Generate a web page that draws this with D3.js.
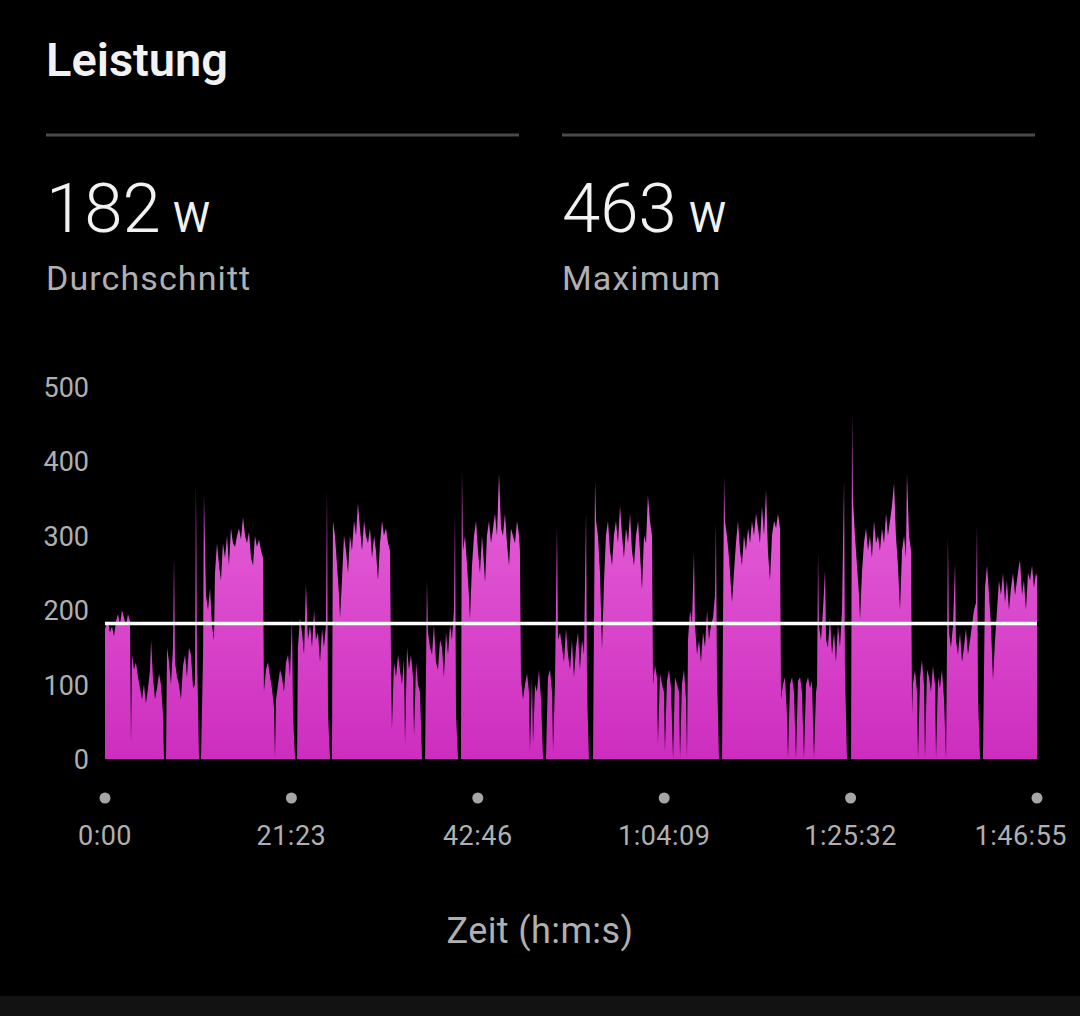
<!DOCTYPE html>
<html>
<head>
<meta charset="utf-8">
<script src="https://cdn.jsdelivr.net/npm/d3@7"></script>
<style>
  html, body { margin: 0; padding: 0; background: #000; }
  svg { display: block; font-family: Roboto, "Noto Sans", sans-serif; }
</style>
</head>
<body>
<svg id="chart" width="1080" height="1016"></svg>
<script>
// summary values
const avgW = 182;
const maxW = 463;

// y axis ticks (watts)
const yTicks = [0, 100, 200, 300, 400, 500];

// x axis ticks (seconds) and their labels
const xTicks = [0, 1283, 2566, 3849, 5132, 6415];
const xTickLabels = ["0:00", "21:23", "42:46", "1:04:09", "1:25:32", "1:46:55"];

// power trace: [elapsed seconds, watts]
const samples = [
  [0,175],[21,185],[34,170],[48,178],[62,165],[76,185],[89,195],[103,180],[117,200],[131,190],[145,178],[158,195],[172,185],[179,20],
  [186,140],[200,120],[213,130],[227,110],[241,95],[255,80],[268,100],[282,75],[296,95],[310,120],[317,160],[330,110],[344,80],[358,95],[372,115],[385,100],[399,60],[406,0],[420,0],
  [427,150],[441,130],[454,100],[468,150],[475,272],[482,130],[496,110],[509,100],[523,80],[537,125],[551,140],[564,110],[578,150],[592,140],[606,95],[619,100],[626,368],[633,150],[647,0],[661,0],[675,140],[681,357],[695,220],[709,200],[723,230],[736,180],[750,160],
  [757,250],[771,290],[785,260],[798,240],[812,290],[826,270],[840,300],[853,260],[867,310],[881,290],[895,285],[909,300],[922,310],[936,295],[950,325],[964,300],[977,290],[991,305],[1005,270],[1019,260],[1032,300],[1046,285],[1060,295],[1074,280],[1088,270],
  [1094,90],[1108,120],[1122,130],[1136,110],[1149,95],[1163,70],[1170,0],[1177,80],[1191,100],[1205,120],[1218,110],[1232,90],[1246,130],[1260,140],[1273,110],[1287,190],[1294,60],[1308,0],[1322,0],
  [1328,150],[1342,190],[1356,170],[1370,140],[1383,236],[1397,160],[1411,180],[1425,150],[1439,200],[1452,160],[1466,170],[1480,130],[1494,175],[1507,150],[1521,180],[1528,361],[1535,60],[1549,0],[1562,0],
  [1569,320],[1583,300],[1597,260],[1611,220],[1618,190],[1631,240],[1645,300],[1659,280],[1673,250],[1686,300],[1700,280],[1714,320],[1728,300],[1741,344],[1755,310],[1769,280],[1783,320],[1796,300],[1810,290],[1824,310],[1838,270],[1852,300],[1865,280],[1879,240],[1893,290],[1907,320],[1920,300],[1934,310],[1948,290],[1962,280],
  [1969,120],[1975,40],[1989,130],[2003,110],[2017,140],[2030,120],[2044,100],[2058,135],[2065,20],[2079,150],[2092,120],[2106,140],[2120,110],[2127,30],[2141,130],[2154,100],[2168,90],[2182,0],[2203,0],
  [2216,240],[2223,170],[2237,150],[2251,140],[2264,180],[2278,130],[2292,120],[2306,160],[2320,150],[2333,110],[2347,170],[2361,140],[2375,180],[2388,160],[2402,200],[2409,331],[2416,60],[2430,0],[2450,0],[2457,388],
  [2464,280],[2478,300],[2492,260],[2505,220],[2512,187],[2526,260],[2540,300],[2554,320],[2567,280],[2581,250],[2595,300],[2609,260],[2616,237],[2629,300],[2643,320],[2657,290],[2671,310],[2684,330],[2698,300],[2712,384],[2726,310],[2739,300],[2753,330],[2767,290],[2781,260],[2794,310],[2808,300],[2822,290],[2836,320],[2850,300],[2856,280],
  [2863,110],[2877,80],[2891,100],[2905,115],[2918,90],[2925,10],[2939,110],[2946,20],[2960,100],[2973,90],[2987,120],[3001,80],[3015,0],[3035,0],[3049,110],[3063,120],[3077,90],[3084,10],[3097,100],[3111,312],
  [3118,160],[3132,170],[3146,150],[3159,130],[3173,175],[3187,140],[3201,120],[3214,160],[3228,110],[3242,150],[3256,170],[3269,120],[3283,160],[3297,140],[3311,332],[3318,90],[3331,0],[3359,0],[3373,375],
  [3380,320],[3393,300],[3407,250],[3421,146],[3435,240],[3448,300],[3462,320],[3476,280],[3490,260],[3503,300],[3517,320],[3531,290],[3545,340],[3559,300],[3572,270],[3586,310],[3600,290],[3614,330],[3627,280],[3641,260],[3655,300],[3669,320],[3682,280],[3696,227],[3710,300],[3724,290],[3737,355],[3751,320],[3765,300],
  [3772,100],[3786,126],[3799,110],[3806,20],[3820,115],[3834,100],[3847,90],[3854,10],[3868,105],[3882,120],[3896,95],[3910,0],[3923,110],[3937,100],[3951,90],[3958,0],[3971,100],[3985,120],[3999,80],[4006,0],
  [4013,160],[4027,200],[4040,180],[4054,278],[4061,180],[4075,140],[4089,160],[4102,130],[4116,170],[4130,150],[4144,200],[4157,160],[4171,180],[4185,190],[4199,220],[4205,318],[4212,120],[4226,0],[4247,0],[4261,379],
  [4267,320],[4281,300],[4295,270],[4309,230],[4316,210],[4329,250],[4343,290],[4357,320],[4371,280],[4384,260],[4398,300],[4412,280],[4426,310],[4440,290],[4453,320],[4467,300],[4481,330],[4495,310],[4508,290],[4522,340],[4536,300],[4550,362],[4563,280],[4577,240],[4591,300],[4605,320],[4619,310],[4632,330],[4646,310],
  [4653,80],[4667,100],[4680,110],[4694,60],[4701,0],[4715,100],[4729,110],[4742,90],[4756,0],[4770,105],[4784,110],[4797,90],[4811,0],[4825,100],[4839,110],[4853,95],[4866,105],[4880,0],[4894,90],[4901,100],
  [4908,278],[4914,180],[4928,160],[4942,200],[4956,254],[4963,160],[4976,150],[4990,190],[5004,140],[5018,170],[5031,130],[5045,180],[5059,150],[5073,200],[5087,375],[5093,120],[5107,0],[5135,0],[5142,463],
  [5148,350],[5162,300],[5176,260],[5190,220],[5197,187],[5210,250],[5224,290],[5238,310],[5252,280],[5265,300],[5279,270],[5293,320],[5307,290],[5321,300],[5334,280],[5348,310],[5362,290],[5376,330],[5389,300],[5403,320],[5417,340],[5431,371],[5444,300],[5458,260],[5472,200],[5486,280],[5500,300],[5513,270],[5520,384],[5534,300],[5548,280],
  [5555,60],[5561,100],[5575,120],[5589,90],[5596,0],[5610,110],[5623,133],[5637,100],[5644,0],[5658,120],[5672,110],[5685,90],[5699,125],[5713,100],[5720,0],[5734,110],[5747,95],[5761,120],[5775,80],[5789,0],[5802,298],
  [5809,170],[5823,150],[5837,180],[5851,263],[5857,160],[5871,140],[5885,170],[5899,130],[5912,150],[5926,175],[5940,140],[5954,160],[5968,180],[5981,200],[5995,210],[6002,314],[6009,80],[6023,0],[6043,0],
  [6057,230],[6071,260],[6085,220],[6098,180],[6112,106],[6126,160],[6140,200],[6153,240],[6167,220],[6181,250],[6195,210],[6208,240],[6222,200],[6236,230],[6250,250],[6264,220],[6277,240],[6291,260],[6298,267],[6312,220],[6325,240],[6339,200],[6353,250],[6367,240],[6381,260],[6394,230],[6408,250],[6415,245]
];

const svg = d3.select('#chart');
const W = 1080, H = 1016;
const grey = '#b0b0b0';

svg.append('rect').attr('width', W).attr('height', H).attr('fill', '#000');
// bottom bar
svg.append('rect').attr('x', 0).attr('y', 996).attr('width', W).attr('height', H - 996).attr('fill', '#121212');

// header
svg.append('text')
  .attr('x', 46).attr('y', 76)
  .attr('fill', '#f2f2f2')
  .attr('font-size', 47)
  .attr('font-weight', 600)
  .text('Leistung');

const stats = [
  { x: 46, value: avgW, label: 'Durchschnitt' },
  { x: 562, value: maxW, label: 'Maximum' }
];

stats.forEach(s => {
  svg.append('line')
    .attr('x1', s.x).attr('x2', s.x + 473)
    .attr('y1', 135).attr('y2', 135)
    .attr('stroke', '#4a4a4a').attr('stroke-width', 3);

  let t = svg.append('text')
    .attr('x', s.x).attr('y', 232)
    .attr('fill', '#f2f2f2');
  t.append('tspan').attr('font-size', 69).attr('font-weight', 300).text(s.value);
  t.append('tspan').attr('dx', 12).attr('font-size', 42).attr('font-weight', 400).text('W');

  svg.append('text')
    .attr('x', s.x).attr('y', 290)
    .attr('fill', grey)
    .attr('font-size', 34)
    .attr('letter-spacing', 1.1)
    .text(s.label);
});

// scales
let x = d3.scaleLinear().domain([0, 6415]).range([105, 1037]);
let y = d3.scaleLinear().domain([0, 500]).range([759, 387]);

// gradient for area
let defs = svg.append('defs');
let grad = defs.append('linearGradient')
  .attr('id', 'powerFill')
  .attr('gradientUnits', 'userSpaceOnUse')
  .attr('x1', 0).attr('x2', 0)
  .attr('y1', y(500)).attr('y2', y(0));
grad.append('stop').attr('offset', '0%').attr('stop-color', '#ee72e2');
grad.append('stop').attr('offset', '100%').attr('stop-color', '#cd2dbe');

// y axis labels
svg.append('g')
  .selectAll('text')
  .data(yTicks)
  .enter()
  .append('text')
  .attr('x', 89)
  .attr('y', d => y(d) + 10)
  .attr('text-anchor', 'end')
  .attr('fill', grey)
  .attr('font-size', 27)
  .text(d => d);

// power area
let area = d3.area()
  .x(d => x(d[0]))
  .y0(y(0))
  .y1(d => y(d[1]))
  .curve(d3.curveLinear);

svg.append('path')
  .datum(samples)
  .attr('d', area)
  .attr('fill', 'url(#powerFill)');

// average line
svg.append('line')
  .attr('x1', x(0)).attr('x2', x(6415))
  .attr('y1', y(avgW)).attr('y2', y(avgW))
  .attr('stroke', '#ffffff')
  .attr('stroke-width', 3.5);

// x axis dots + labels
let xg = svg.append('g');
xg.selectAll('circle')
  .data(xTicks)
  .enter()
  .append('circle')
  .attr('cx', d => x(d))
  .attr('cy', 798)
  .attr('r', 5.5)
  .attr('fill', '#a6a6a6');

xg.selectAll('text')
  .data(xTicks)
  .enter()
  .append('text')
  .attr('x', (d, i) => i === xTicks.length - 1 ? 1067 : x(d))
  .attr('y', 845)
  .attr('text-anchor', (d, i) => i === xTicks.length - 1 ? 'end' : 'middle')
  .attr('fill', grey)
  .attr('font-size', 27)
  .attr('letter-spacing', 0.5)
  .text((d, i) => xTickLabels[i]);

svg.append('text')
  .attr('x', 540).attr('y', 943)
  .attr('text-anchor', 'middle')
  .attr('fill', grey)
  .attr('font-size', 36)
  .attr('letter-spacing', 0.4)
  .text('Zeit (h:m:s)');
</script>
</body>
</html>
